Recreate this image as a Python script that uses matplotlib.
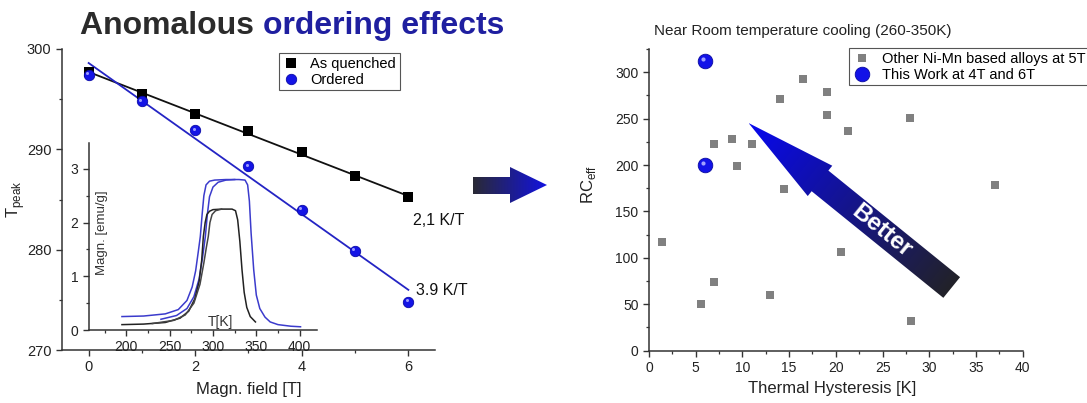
import numpy as np
import matplotlib
matplotlib.use('Agg')
import matplotlib.pyplot as plt
from matplotlib.ticker import MultipleLocator
from matplotlib.patches import Polygon
from matplotlib.colors import LinearSegmentedColormap
from matplotlib.transforms import ScaledTranslation

plt.rcParams['font.family'] = ['Liberation Sans', 'DejaVu Sans']

# --- left panel: peak temperature vs field
field = [0, 1, 2, 3, 4, 5, 6]
t_quenched = [297.7, 295.5, 293.5, 291.8, 289.7, 287.3, 285.2]
t_ordered = [297.4, 294.8, 291.9, 288.3, 284.0, 279.9, 274.8]

# --- inset: magnetization loops M(T)
bo_T = [195, 220, 245, 260, 270, 276, 280, 283, 285.4, 287.5, 289.5, 292, 296, 302, 315, 330,
        337, 340, 342, 344, 347, 350, 354, 360, 366, 375, 390, 401]
bo_M = [0.25, 0.26, 0.30, 0.38, 0.55, 0.80, 1.10, 1.45, 1.74, 2.15, 2.50, 2.70, 2.77, 2.79, 2.80, 2.80,
        2.79, 2.70, 2.40, 1.80, 1.12, 0.65, 0.40, 0.24, 0.15, 0.10, 0.07, 0.06]
bi_T = [240, 258, 270, 278, 284, 288, 291.2, 293.5, 296, 300, 306, 315, 325]
bi_M = [0.20, 0.27, 0.40, 0.62, 0.95, 1.35, 1.74, 2.15, 2.48, 2.66, 2.75, 2.79, 2.80]
ko_T = [195, 220, 245, 262, 272, 279, 284, 287, 288.9, 291, 293, 296, 300, 310, 322, 326,
        328.5, 331, 333.5, 336, 339, 343, 349]
ko_M = [0.10, 0.11, 0.14, 0.22, 0.35, 0.58, 0.90, 1.30, 1.74, 2.00, 2.15, 2.21, 2.24, 2.25, 2.25, 2.22,
        2.05, 1.65, 1.12, 0.70, 0.42, 0.25, 0.15]
ki_T = [230, 255, 268, 278, 285, 289.5, 292.5, 294.6, 296.5, 299, 303, 310]
ki_M = [0.12, 0.18, 0.28, 0.50, 0.85, 1.25, 1.55, 1.74, 2.00, 2.15, 2.22, 2.25]

# --- right panel: RC_eff vs thermal hysteresis
other_hyst = [6.96, 8.85, 11.03, 9.38, 14.03, 16.52, 19.06, 19.06, 21.34, 27.99, 37.0, 14.5,
              1.35, 5.53, 7.0, 13.0, 20.5, 28.0]
other_rc = [223, 228, 223, 199, 271, 293, 279, 254, 237, 251, 178, 174,
            117, 50, 74, 60, 106, 32]
work_hyst = [6.03, 6.03]
work_rc = [312, 200]

W, H = 1087, 403
fig = plt.figure(figsize=(W / 100, H / 100), dpi=100)

def style(ax, fs=10):
    for s in ['top', 'right']:
        ax.spines[s].set_visible(False)
    for s in ['left', 'bottom']:
        ax.spines[s].set_color('#333333')
        ax.spines[s].set_linewidth(1.1)
    ax.tick_params(direction='out', length=4, width=1, colors='#333333', labelsize=fs,
                   labelcolor='#222222')
    ax.tick_params(which='minor', direction='out', length=2.5, width=0.9, colors='#333333')

# left
ax1 = fig.add_axes([62 / W, 1 - 350 / H, 373 / W, 301 / H])
style(ax1, 10.5)
ax1.set_xlim(-0.5, 6.5)
ax1.set_ylim(270, 300)
ax1.xaxis.set_major_locator(MultipleLocator(2))
ax1.xaxis.set_minor_locator(MultipleLocator(1))
ax1.yaxis.set_major_locator(MultipleLocator(10))
ax1.yaxis.set_minor_locator(MultipleLocator(5))

fq = np.polyfit(field, t_quenched, 1)
fo = np.polyfit(field, t_ordered, 1)
xx = np.array([0, 6])
ax1.plot(xx, np.polyval(fq, xx), color='#111111', lw=1.3, zorder=2)
ax1.plot(xx, np.polyval(fo, xx), color='#2424c4', lw=1.3, zorder=2)
ax1.plot(field, t_quenched, 's', color='black', ms=7.2, mew=0, label='As quenched', zorder=3)
ax1.plot(field, t_ordered, 'o', color='#1414e6', mec='#0a0aa8', mew=0.6, ms=7.5,
         label='Ordered', zorder=3)
hl = ax1.transData + ScaledTranslation(-1.2 / 72, 1.2 / 72, fig.dpi_scale_trans)
ax1.plot(field, t_ordered, 'o', color='#9a9aff', ms=2.2, mew=0, transform=hl, zorder=4)
ax1.text(6.085, 282.95, '2,1 K/T', fontsize=11.5, va='center', ha='left', color='#111111')
ax1.text(6.14, 275.9, '3.9 K/T', fontsize=11.5, va='center', ha='left', color='#111111')
ax1.set_xlabel('Magn. field [T]', fontsize=12, color='#222222')
ax1.xaxis.set_label_coords(0.5, -0.105)
ax1.set_ylabel('T$_{\\mathregular{peak}}$', fontsize=12, color='#222222')
ax1.yaxis.set_label_coords(-0.094, 0.5)
leg1 = ax1.legend(loc='upper left', bbox_to_anchor=(279 / W, 1 - 53 / H),
                  bbox_transform=fig.transFigure, borderaxespad=0, fancybox=False,
                  fontsize=10.5, handletextpad=0.7, borderpad=0.25, labelspacing=0.15,
                  handlelength=1.2, framealpha=1)
leg1.get_frame().set_edgecolor('#555555')
leg1.get_frame().set_linewidth(0.8)

# inset
ax2 = fig.add_axes([89 / W, 1 - 330 / H, 228 / W, 187 / H])
ax2.patch.set_alpha(0)
style(ax2, 10)
ax2.set_xlim(157, 420)
ax2.set_ylim(0, 3.48)
ax2.xaxis.set_major_locator(MultipleLocator(50))
ax2.xaxis.set_minor_locator(MultipleLocator(25))
ax2.yaxis.set_major_locator(MultipleLocator(1))
ax2.yaxis.set_minor_locator(MultipleLocator(0.5))
ax2.set_xticks([200, 250, 300, 350, 400])
ax2.plot(bo_T, bo_M, color='#3b3bcc', lw=1.1)
ax2.plot(bi_T, bi_M, color='#3b3bcc', lw=1.1)
ax2.plot(ko_T, ko_M, color='#222222', lw=1.1)
ax2.plot(ki_T, ki_M, color='#444444', lw=1.1)
ax2.text(0.057, 0.52, 'Magn. [emu/g]', transform=ax2.transAxes, rotation=90,
         ha='center', va='center', fontsize=9.5, color='#333333')
ax2.text(0.575, 0.045, 'T[K]', transform=ax2.transAxes, ha='center', va='center',
         fontsize=10, color='#333333')

# right
ax3 = fig.add_axes([649 / W, 1 - 350.7 / H, 373.7 / W, 301.7 / H])
style(ax3, 10)
ax3.set_xlim(0, 40)
ax3.set_ylim(0, 325)
ax3.xaxis.set_major_locator(MultipleLocator(5))
ax3.xaxis.set_minor_locator(MultipleLocator(2.5))
ax3.yaxis.set_major_locator(MultipleLocator(50))
ax3.yaxis.set_minor_locator(MultipleLocator(25))
ax3.plot(other_hyst, other_rc, 's', color='#808080', ms=6, mew=0,
         label='Other Ni-Mn based alloys at 5T')
ax3.plot(work_hyst, work_rc, 'o', color='#1212e8', mec='#0a0aa0', mew=0.6, ms=10.5,
         label='This Work at 4T and 6T')
hl3 = ax3.transData + ScaledTranslation(-1.8 / 72, 1.8 / 72, fig.dpi_scale_trans)
ax3.plot(work_hyst, work_rc, 'o', color='#a0a0ff', ms=3, mew=0, transform=hl3)
ax3.set_xlabel('Thermal Hysteresis [K]', fontsize=12, color='#222222')
ax3.xaxis.set_label_coords(0.49, -0.1)
ax3.set_ylabel('RC$_{\\mathregular{eff}}$', fontsize=12, color='#222222')
ax3.yaxis.set_label_coords(-0.137, 0.55)
leg3 = ax3.legend(loc='upper left', bbox_to_anchor=(849 / W, 1 - 48 / H),
                  bbox_transform=fig.transFigure, borderaxespad=0, fancybox=False,
                  fontsize=10.5, handletextpad=0.7, borderpad=0.25, labelspacing=0.15,
                  handlelength=1.3, framealpha=1)
leg3.get_frame().set_edgecolor('#555555')
leg3.get_frame().set_linewidth(0.8)

# titles
t1 = fig.text(80 / W, 1 - 34 / H, 'Anomalous ', fontsize=23, fontweight='bold',
              color='#2b2b2b', va='baseline')
fig.canvas.draw()
bb = t1.get_window_extent()
fig.text(bb.x1 / W, 1 - 34 / H, 'ordering effects', fontsize=23, fontweight='bold',
         color='#1f1fa0', va='baseline')
fig.text(654 / W, 1 - 35 / H, 'Near Room temperature cooling (260-350K)', fontsize=11,
         color='#222222', va='baseline')

# overlay in pixel coords for the decorative arrows
ov = fig.add_axes([0, 0, 1, 1], zorder=10)
ov.patch.set_alpha(0)
ov.set_axis_off()

def grad_arrow(pts, start, end, c0, c1):
    pts = np.array(pts)
    poly = Polygon(pts, closed=True, fc='none', ec='none')
    ov.add_patch(poly)
    x0, y0 = pts.min(axis=0)
    x1, y1 = pts.max(axis=0)
    X, Y = np.meshgrid(np.linspace(x0, x1, 300), np.linspace(y0, y1, 300))
    d = np.array(end) - np.array(start)
    t = ((X - start[0]) * d[0] + (Y - start[1]) * d[1]) / (d @ d)
    cm = LinearSegmentedColormap.from_list('g', [c0, c1])
    im = ov.imshow(np.clip(t, 0, 1), extent=(x0, x1, y1, y0), origin='upper', cmap=cm,
                   vmin=0, vmax=1, aspect='auto', interpolation='bilinear')
    im.set_clip_path(poly)

# horizontal arrow between panels
grad_arrow([(473, 177), (510, 177), (510, 167), (547, 185), (510, 203), (510, 194), (473, 194)],
           (473, 185), (547, 185), '#2a2a35', '#1212e0')

# "Better" arrow
tip = np.array([748.5, 123.0])
tail = np.array([951.7, 287.5])
u = (tail - tip) / np.linalg.norm(tail - tip)
p = np.array([-u[1], u[0]])
hlen, hw, sw = 92, 19.5, 13.3
base = tip + u * hlen
arrow_pts = [tip, base + p * hw, base + p * sw, tail + p * sw, tail - p * sw,
             base - p * sw, base - p * hw]
grad_arrow(arrow_pts, tip, tail, '#0808ee', '#222228')
mid = tip + u * 172
ang = -np.degrees(np.arctan2(u[1], u[0]))
ov.text(mid[0], mid[1], 'Better', rotation=ang, rotation_mode='anchor', ha='center',
        va='center', color='white', fontsize=17.5, fontweight='bold')

ov.set_xlim(0, W)
ov.set_ylim(H, 0)

fig.savefig('out.png', dpi=100)
